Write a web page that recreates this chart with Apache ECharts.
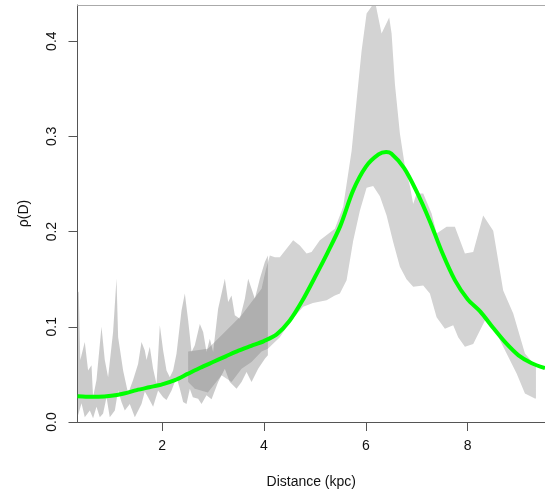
<!DOCTYPE html>
<html>
<head>
<meta charset="utf-8">
<script src="https://cdn.jsdelivr.net/npm/echarts@6/dist/echarts.min.js"></script>
<style>html,body{margin:0;padding:0;background:#fff}#c{width:545px;height:495px}</style>
</head>
<body>
<div id="c"></div>
<script>
// ---- data ----
const xTicks = [2, 4, 6, 8];
const yTicks = [0, 0.1, 0.2, 0.3, 0.4];

// spiky band A (near distances)
const bandAUpperX = [0.338,0.363,0.393,0.481,0.546,0.613,0.644,0.711,0.809,0.874,0.939,1.037,1.104,1.136,1.234,1.332,1.430,1.528,1.595,1.660,1.694,1.758,1.823,1.890,1.955,2.020,2.086,2.151,2.216,2.283,2.381,2.446,2.511,2.578,2.642,2.741,2.806,2.872,2.937,3.002,3.100,3.232,3.297,3.363,3.428,3.527,3.625,3.690,3.756,3.821,3.919,4.018,4.077];
const bandAUpperY = [0.138,0.136,0.065,0.084,0.054,0.0595,0.026,0.044,0.100,0.065,0.047,0.0945,0.1505,0.089,0.054,0.030,0.044,0.061,0.084,0.075,0.065,0.079,0.056,0.040,0.1015,0.075,0.054,0.047,0.054,0.072,0.117,0.135,0.107,0.0735,0.0805,0.103,0.0945,0.0735,0.0875,0.0735,0.119,0.1505,0.126,0.133,0.112,0.1085,0.1295,0.1505,0.140,0.1295,0.1505,0.168,0.175];
const bandALowerX = [0.338,0.417,0.481,0.580,0.644,0.711,0.776,0.841,0.908,0.972,1.071,1.136,1.202,1.267,1.365,1.464,1.595,1.660,1.725,1.823,1.921,2.020,2.086,2.185,2.283,2.348,2.413,2.479,2.544,2.603,2.707,2.774,2.872,2.971,3.100,3.232,3.330,3.462,3.560,3.658,3.756,3.886,4.018,4.077];
const bandALowerY = [0.005,0.0196,0.005,0.012,0.004,0.016,0.005,0.009,0.026,0.005,0.012,0.033,0.021,0.012,0.019,0.005,0.019,0.032,0.026,0.016,0.033,0.026,0.023,0.033,0.047,0.035,0.021,0.019,0.035,0.026,0.0245,0.019,0.028,0.024,0.042,0.056,0.042,0.035,0.042,0.0525,0.042,0.056,0.0665,0.070];

// smoother band B (far distances)
const bandBUpperX = [2.511,2.898,3.167,3.428,3.560,3.756,3.953,4.037,4.116,4.214,4.312,4.574,4.705,4.837,4.935,5.098,5.393,5.556,5.722,5.820,5.918,6.016,6.120,6.200,6.310,6.460,6.507,6.572,6.670,6.770,6.870,6.931,6.998,7.128,7.293,7.391,7.587,7.750,7.947,8.110,8.306,8.503,8.699,8.896,9.126,9.322,9.342];
const bandBUpperY = [0.074,0.077,0.091,0.105,0.112,0.126,0.140,0.160,0.175,0.173,0.173,0.191,0.1855,0.177,0.1785,0.191,0.203,0.226,0.285,0.338,0.390,0.429,0.437,0.437,0.408,0.425,0.408,0.355,0.303,0.268,0.247,0.229,0.240,0.240,0.219,0.198,0.205,0.205,0.177,0.1785,0.217,0.201,0.138,0.114,0.072,0.0595,0.058];
const bandBLowerX = [2.511,2.642,2.898,3.167,3.363,3.560,3.756,3.953,4.077,4.312,4.509,4.770,4.961,5.230,5.393,5.491,5.623,5.752,5.884,6.016,6.145,6.277,6.409,6.538,6.670,6.800,6.931,7.128,7.259,7.391,7.554,7.717,7.815,7.947,8.110,8.242,8.373,8.570,8.766,8.963,9.126,9.322,9.342];
const bandBLowerY = [0.042,0.035,0.031,0.049,0.042,0.056,0.063,0.074,0.077,0.089,0.105,0.121,0.125,0.128,0.133,0.135,0.149,0.190,0.222,0.246,0.248,0.237,0.217,0.189,0.163,0.150,0.142,0.1435,0.135,0.110,0.098,0.1015,0.089,0.079,0.082,0.096,0.110,0.093,0.072,0.051,0.030,0.0246,0.0246];

// smooth density curve
const curveX = [0.338,0.5,0.75,1.0,1.25,1.5,1.75,2.0,2.25,2.5,2.75,3.0,3.25,3.5,3.75,4.0,4.25,4.5,4.75,5.0,5.25,5.5,5.75,6.0,6.25,6.4,6.5,6.75,7.0,7.25,7.5,7.75,8.0,8.25,8.5,8.75,9.0,9.25,9.52];
const curveY = [0.027,0.0265,0.0265,0.0275,0.030,0.0335,0.0365,0.0395,0.044,0.0505,0.057,0.063,0.069,0.075,0.080,0.085,0.092,0.106,0.127,0.152,0.178,0.206,0.243,0.268,0.281,0.2835,0.282,0.267,0.242,0.212,0.178,0.149,0.129,0.116,0.099,0.083,0.070,0.062,0.0565];

// ---- chart ----
const FONT = 'Liberation Sans, Arial, sans-serif';
const zip = (xs, ys) => xs.map((x, i) => [x, ys[i]]);

function bandRenderer(upX, upY, loX, loY, fill) {
  return function (params, api) {
    const up = zip(upX, upY).map(p => api.coord(p));
    const lo = zip(loX, loY).reverse().map(p => api.coord(p));
    return { type: 'polygon', shape: { points: up.concat(lo) }, style: { fill: fill, stroke: null } };
  };
}

const chart = echarts.init(document.getElementById('c'), null, { renderer: 'canvas' });
chart.setOption({
  animation: false,
  grid: { left: 77.5, right: 0, top: 5, bottom: 73 },
  xAxis: [{
    type: 'value', min: 0.338, max: 9.52,
    name: 'Distance (kpc)', nameLocation: 'middle', nameGap: 53,
    nameTextStyle: { fontSize: 14, color: '#111', fontFamily: FONT },
    axisLine: { show: true, onZero: false, lineStyle: { color: '#555', width: 1 } },
    axisTick: { show: true, customValues: xTicks, length: 9, lineStyle: { color: '#555' } },
    axisLabel: { customValues: xTicks, margin: 17, fontSize: 14, color: '#111', fontFamily: FONT },
    splitLine: { show: false }
  }, {
    type: 'value', position: 'top', min: 0.338, max: 9.52,
    axisLine: { show: true, onZero: false, lineStyle: { color: '#aaa', width: 1 } },
    axisTick: { show: false }, axisLabel: { show: false }, splitLine: { show: false }
  }],
  yAxis: {
    type: 'value', min: 0, max: 0.438,
    name: 'ρ(D)', nameLocation: 'middle', nameGap: 46,
    nameTextStyle: { fontSize: 14, color: '#111', fontFamily: FONT },
    axisLine: { show: true, onZero: false, lineStyle: { color: '#555', width: 1 } },
    axisTick: { show: true, customValues: yTicks, length: 9, lineStyle: { color: '#555' } },
    axisLabel: { customValues: yTicks, rotate: 90, margin: 18, fontSize: 14, color: '#111', fontFamily: FONT,
      formatter: v => v.toFixed(1) },
    splitLine: { show: false }
  },
  series: [
    { type: 'custom', silent: true, z: 1, data: [[bandBUpperX[0], bandBUpperY[0]]],
      renderItem: bandRenderer(bandBUpperX, bandBUpperY, bandBLowerX, bandBLowerY, '#d3d3d3') },
    { type: 'custom', silent: true, z: 2, data: [[bandAUpperX[0], bandAUpperY[0]]],
      renderItem: bandRenderer(bandAUpperX, bandAUpperY, bandALowerX, bandALowerY, 'rgba(110,110,110,0.36)') },
    { type: 'line', z: 3, data: zip(curveX, curveY), smooth: 0.3, symbol: 'none',
      lineStyle: { color: '#00ff00', width: 4 } }
  ]
});
</script>
</body>
</html>
